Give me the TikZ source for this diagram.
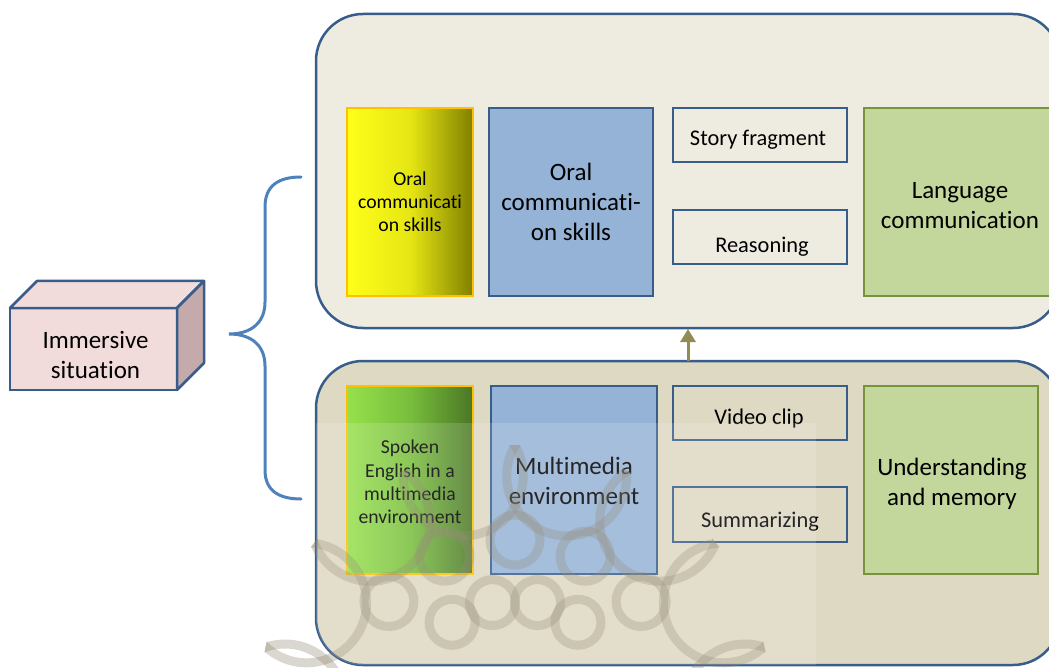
\documentclass[tikz,border=0pt]{standalone}
\usepackage{fontspec}
\setmainfont{Carlito}[Ligatures=NoCommon]
\usetikzlibrary{arrows.meta,calc}
\definecolor{panelA}{HTML}{EEECE1}
\definecolor{panelB}{HTML}{DDD9C3}
\definecolor{dblue}{HTML}{385D8A}
\definecolor{bfill}{HTML}{95B3D7}
\definecolor{gfill}{HTML}{C3D69B}
\definecolor{gline}{HTML}{77933C}
\definecolor{orng}{HTML}{FFC000}
\definecolor{pinkfill}{HTML}{F2DCDB}
\definecolor{pinkside}{HTML}{C4AAAA}
\definecolor{bracecol}{HTML}{4F81BD}
\definecolor{olivecol}{HTML}{948A54}
\definecolor{wmcol}{HTML}{857A62}
\definecolor{ylA}{HTML}{FFFF1A}
\definecolor{ylB}{HTML}{E6E614}
\definecolor{ylC}{HTML}{808000}
\definecolor{grA}{HTML}{96E04C}
\definecolor{grB}{HTML}{78BE3C}
\definecolor{grC}{HTML}{4A7626}
\tikzset{
  panelbox/.style={draw=dblue, line width=2.5pt, rounded corners=47pt, anchor=north west, inner sep=0pt, outer sep=0pt},
  basebox/.style={line width=2.5pt, anchor=north west, inner sep=0pt, outer sep=0pt, align=center},
  bigtxt/.style={font=\fontsize{25}{30}\selectfont},
  midtxt/.style={font=\fontsize{22.4}{28}\selectfont},
  smalltxt/.style={font=\fontsize{19.7}{23.2}\selectfont},
  bluebox/.style={basebox, draw=dblue, fill=bfill},
  greenbox/.style={basebox, draw=gline, fill=gfill},
  linebox/.style={basebox, draw=dblue},
  yellowbox/.style={basebox, draw=orng, left color=ylA, right color=ylC, middle color=ylB},
  limebox/.style={basebox, draw=orng, left color=grA, right color=grC, middle color=grB},
  lbl/.style={midtxt, inner sep=0pt, anchor=center},
  biglbl/.style={bigtxt, align=center, inner sep=0pt, anchor=center},
  smalllbl/.style={smalltxt, align=center, inner sep=0pt, anchor=center},
  cubeface/.style={draw=dblue, line width=2.5pt, line join=round},
  bracestyle/.style={draw=bracecol, line width=3pt, line cap=round},
  uparrow/.style={draw=olivecol, line width=3pt, -{Triangle[width=15pt,length=13pt]}},
  wmline/.style={draw=wmcol, line width=9pt, opacity=0.3}
}
\begin{document}
\begin{tikzpicture}[x=1pt,y=-1pt]
\useasboundingbox (0,0) rectangle (1049,668);

% panels
\node[panelbox, fill=panelA, minimum width=744pt, minimum height=314pt] (toppanel) at (316,14) {};
\node[panelbox, fill=panelB, minimum width=744pt, minimum height=304pt] (botpanel) at (316,361) {};

% arrow between panels
\coordinate (arrbot) at (688,361);
\coordinate (arrtop) at (688,329);
\draw[uparrow] (arrbot) -- (arrtop);

% cube
\node[basebox, draw=dblue, fill=pinkfill, minimum width=167pt, minimum height=82pt] (imm) at (10,308) {};
\draw[cubeface, fill=pinkfill] (imm.north west) -- ++(27,-27) -- ($(imm.north east)+(27,-27)$) -- (imm.north east) -- cycle;
\draw[cubeface, fill=pinkside] (imm.north east) -- ++(27,-27) -- ($(imm.south east)+(27,-27)$) -- (imm.south east) -- cycle;
\node[biglbl] (immT) at ($(imm.center)+(2,6)$) {Immersive\\situation};

% brace
\coordinate (brtop) at (301,177);
\coordinate (brtip) at (229,334);
\coordinate (brbot) at (301,499);
\draw[bracestyle] (brtop) .. controls (278,177) and (265,186) .. (265,207) -- (265,302)
  .. controls (265,322) and (252,334) .. (brtip)
  .. controls (252,334) and (265,346) .. (265,366) -- (265,470)
  .. controls (265,490) and (278,499) .. (brbot);

% top row
\node[yellowbox, minimum width=126pt, minimum height=188pt] (yel) at (347,108) {};
\node[smalllbl] (yelT) at ($(yel.center)+(0,0)$) {Oral\\communicati\\on skills};
\node[bluebox, minimum width=164pt, minimum height=188pt] (oral) at (489,108) {};
\node[biglbl] (oralT) at ($(oral.center)+(0,0)$) {Oral\\communicati-\\on skills};
\node[linebox, minimum width=174pt, minimum height=54pt] (story) at (673,108) {};
\node[lbl] (storyT) at ($(story.center)+(-2,5)$) {Story fragment};
\node[linebox, minimum width=174pt, minimum height=54pt] (reason) at (673,210) {};
\node[lbl] (reasonT) at ($(reason.center)+(2,10)$) {Reasoning};
\node[greenbox, minimum width=192pt, minimum height=188pt] (lang) at (864,108) {};
\node[biglbl] (langT) at ($(lang.center)+(0,4)$) {Language\\communication};

% bottom row
\node[limebox, minimum width=126pt, minimum height=188pt] (spoken) at (347,386) {};
\node[smalllbl] (spokenT) at ($(spoken.center)+(0,2)$) {Spoken\\English in a\\multimedia\\environment};
\node[bluebox, minimum width=166pt, minimum height=188pt] (multi) at (491,386) {};
\node[biglbl] (multiT) at ($(multi.center)+(0,1)$) {Multimedia\\environment};
\node[linebox, minimum width=174pt, minimum height=54pt] (video) at (673,386) {};
\node[lbl] (videoT) at ($(video.center)+(-1,6)$) {Video clip};
\node[linebox, minimum width=174pt, minimum height=55pt] (summ) at (673,487) {};
\node[lbl] (summT) at ($(summ.center)+(0,7)$) {Summarizing};
\node[greenbox, minimum width=174pt, minimum height=188pt] (under) at (864,386) {};
\node[biglbl] (underT) at ($(under.center)+(1,4)$) {Understanding\\and memory};

% watermark (approximate rosette)
\coordinate (wc) at (515,700);
\begin{scope}
\clip (255,423) rectangle (816,668);
\begin{scope}
\clip (wc) circle (255);
\foreach \m in {-1,25,51,77,103,129,155,181}
  \draw[wmline] ($(wc)+(-\m:230)$) circle (60);
\end{scope}
\foreach \a in {38,64,90,116,142}
  \draw[wmline] ($(wc)+(-\a:160)$) circle (25);
\foreach \a in {51,77,103,129}
  \draw[wmline] ($(wc)+(-\a:100)$) circle (23);
\end{scope}
\begin{scope}
\clip[rounded corners=47pt] (316,361) rectangle (1060,665);
\fill[white, opacity=0.15] (316,423) rectangle (816,668);
\end{scope}
\end{tikzpicture}
\end{document}
